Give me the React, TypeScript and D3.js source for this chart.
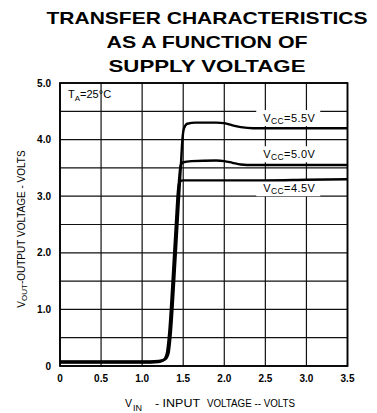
import React from 'react';
import * as d3 from 'd3';

// transfer curves, [Vin, Vout]
const vcc55: [number, number][] = [
  [0, 0.08], [0.5, 0.08], [1.0, 0.08], [1.2, 0.09], [1.28, 0.12], [1.32, 0.22], [1.35, 0.6],
  [1.39, 1.5], [1.43, 2.5], [1.47, 3.5], [1.49, 4.0], [1.51, 4.2], [1.55, 4.28], [1.65, 4.3],
  [1.9, 4.3], [2.0, 4.29], [2.1, 4.25], [2.2, 4.22], [2.35, 4.2], [2.6, 4.2], [3.5, 4.2],
];
const vcc50: [number, number][] = [
  [0, 0.07], [0.5, 0.07], [1.0, 0.07], [1.2, 0.08], [1.27, 0.11], [1.31, 0.22], [1.34, 0.6],
  [1.38, 1.5], [1.42, 2.5], [1.45, 3.3], [1.47, 3.55], [1.5, 3.6], [1.6, 3.62],
  [1.9, 3.63], [2.0, 3.62], [2.1, 3.59], [2.2, 3.56], [2.35, 3.55], [2.6, 3.55], [3.5, 3.55],
];
const vcc45: [number, number][] = [
  [0, 0.06], [0.5, 0.06], [1.0, 0.06], [1.2, 0.07], [1.26, 0.1], [1.3, 0.22], [1.33, 0.6],
  [1.37, 1.5], [1.41, 2.5], [1.44, 3.15], [1.46, 3.26], [1.5, 3.28], [1.8, 3.28],
  [2.5, 3.28], [3.0, 3.29], [3.5, 3.3],
];
const seriesNames = ['5.5V', '5.0V', '4.5V'];
const xTickVals = [0, 0.5, 1.0, 1.5, 2.0, 2.5, 3.0, 3.5];
const xTickLabels = ['0', '0.5', '1.0', '1.5', '2.0', '2.5', '3.0', '3.5'];
const yGridVals = [0, 0.5, 1, 1.5, 2, 2.5, 3, 3.5, 4, 4.5, 5];
const yTickVals = [0, 1, 2, 3, 4, 5];
const yTickLabels = ['0', '1.0', '2.0', '3.0', '4.0', '5.0'];
const titleLines = ['TRANSFER CHARACTERISTICS', 'AS A FUNCTION OF', 'SUPPLY VOLTAGE'];

export default function App() {
  const W = 377;
  const H = 413;
  const x = d3.scaleLinear().domain([0, 3.5]).range([60, 347.5]);
  const y = d3.scaleLinear().domain([0, 5]).range([366, 83]);
  const line = d3
    .line<[number, number]>()
    .x((d) => x(d[0]))
    .y((d) => y(d[1]))
    .curve(d3.curveMonotoneX);

  const font = '"Liberation Sans", Arial, sans-serif';
  const series = [vcc55, vcc50, vcc45];
  // label spots (Vin start, baseline in volts)
  const labelPos = [
    { vx: 2.45, vy: 4.31 },
    { vx: 2.45, vy: 3.67 },
    { vx: 2.45, vy: 3.07 },
  ];
  const titleWidths = [321, 201, 197];

  return (
    <svg
      width={W}
      height={H}
      style={{ position: 'absolute', left: 0, top: 0, background: '#fff' }}
      fontFamily={font}
    >
      {titleLines.map((t, i) => (
        <text
          key={t}
          x={207}
          y={24 + i * 24}
          textAnchor="middle"
          fontSize={17}
          fontWeight="bold"
          textLength={titleWidths[i]}
          lengthAdjust="spacingAndGlyphs"
        >
          {t}
        </text>
      ))}

      {/* grid */}
      {xTickVals.map((v) => (
        <line key={'gx' + v} x1={x(v)} x2={x(v)} y1={y(0)} y2={y(5)} stroke="#111" strokeWidth={1.2} />
      ))}
      {yGridVals.map((v) => (
        <line key={'gy' + v} x1={x(0)} x2={x(3.5)} y1={y(v)} y2={y(v)} stroke="#111" strokeWidth={1.2} />
      ))}
      <rect x={x(0)} y={y(5)} width={x(3.5) - x(0)} height={y(0) - y(5)} fill="none" stroke="#000" strokeWidth={1.8} />

      {/* white patches behind curve labels */}
      {labelPos.map((p, i) => (
        <rect key={'bg' + i} x={x(p.vx) - 5} y={y(p.vy) - 12} width={64} height={16} fill="#fff" />
      ))}

      {series.map((s, i) => (
        <path key={'s' + i} d={line(s) || ''} fill="none" stroke="#000" strokeWidth={2.4} strokeLinejoin="round" />
      ))}

      {labelPos.map((p, i) => (
        <text key={'lb' + i} x={x(p.vx) + 2} y={y(p.vy)} fontSize={11} letterSpacing={0.4}>
          V
          <tspan fontSize={8.5} dy={2}>CC</tspan>
          <tspan dy={-2}>{'=' + seriesNames[i]}</tspan>
        </text>
      ))}

      <text x={68} y={98} fontSize={11}>
        T<tspan fontSize={8} dy={2.5}>A</tspan>
        <tspan dy={-2.5}>{'=25°C'}</tspan>
      </text>

      {/* ticks */}
      {xTickVals.map((v, i) => (
        <text key={'xt' + v} x={x(v)} y={382} textAnchor="middle" fontSize={10} fontWeight="bold">
          {xTickLabels[i]}
        </text>
      ))}
      {yTickVals.map((v, i) => (
        <text key={'yt' + v} x={51} y={y(v)} dy="0.35em" textAnchor="end" fontSize={10} fontWeight="bold">
          {yTickLabels[i]}
        </text>
      ))}

      {/* axis titles */}
      <text x={125} y={407} fontSize={10.5}>
        V<tspan fontSize={9} dy={4} dx={1}>IN</tspan>
      </text>
      <text x={155} y={407} fontSize={10} textLength={45} lengthAdjust="spacingAndGlyphs">
        - INPUT
      </text>
      <text x={207} y={407} fontSize={10} textLength={88} lengthAdjust="spacingAndGlyphs">
        VOLTAGE -- VOLTS
      </text>
      <text transform="translate(25,229) rotate(-90)" textAnchor="middle" fontSize={10}>
        V<tspan fontSize={8} dy={2}>OUT</tspan>
        <tspan dy={-2}>-OUTPUT  VOLTAGE - VOLTS</tspan>
      </text>
    </svg>
  );
}
